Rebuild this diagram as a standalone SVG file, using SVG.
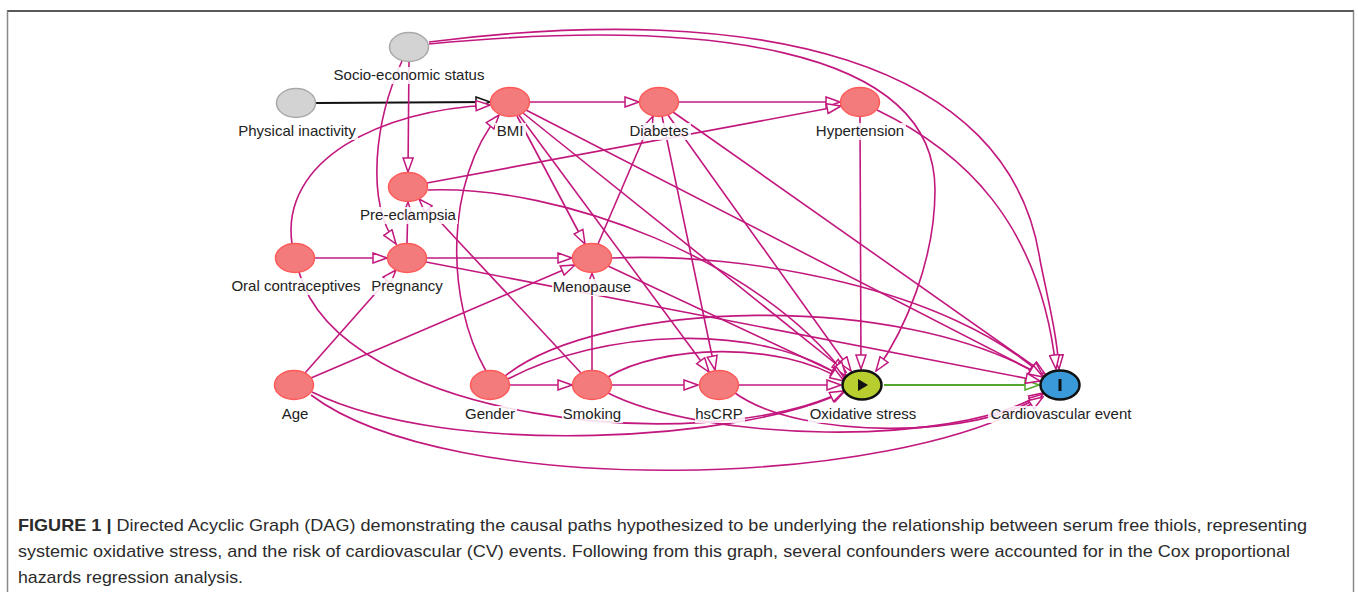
<svg xmlns="http://www.w3.org/2000/svg" width="1358" height="592" viewBox="0 0 1358 592">
<style>
.e{fill:none;stroke:#c2187e;stroke-width:1.6}
.n{fill:#f47b7b;stroke:#ff5a5a;stroke-width:1.5}
.g{fill:#d3d3d3;stroke:#a9a9a9;stroke-width:1.5}
.lb{fill:#fff;fill-opacity:0.85}
.t{font-family:"Liberation Sans",Arial,sans-serif;font-size:15px;fill:#222;text-anchor:middle}
.c{font-family:"Liberation Sans",Arial,sans-serif;font-size:17px;fill:#2b2b2b}
</style>
<defs>
<marker id="a" viewBox="0 0 16 12" refX="15" refY="6" markerWidth="16" markerHeight="12" markerUnits="userSpaceOnUse" orient="auto"><path d="M1,1 L15,6 L1,11 Z" fill="#fff" stroke="#c2187e" stroke-width="1.5"/></marker>
<marker id="k" viewBox="0 0 16 12" refX="15" refY="6" markerWidth="16" markerHeight="12" markerUnits="userSpaceOnUse" orient="auto"><path d="M1,1 L15,6 L1,11 Z" fill="#fff" stroke="#111" stroke-width="1.5"/></marker>
<marker id="gr" viewBox="0 0 16 12" refX="15" refY="6" markerWidth="16" markerHeight="12" markerUnits="userSpaceOnUse" orient="auto"><path d="M1,1 L15,6 L1,11 Z" fill="#fff" stroke="#52a82c" stroke-width="1.5"/></marker>
</defs>
<rect width="1358" height="592" fill="#fff"/>
<g id="frame">
<line x1="7" y1="11" x2="1354" y2="11" stroke="#222" stroke-width="1.5"/>
<line x1="7.5" y1="11" x2="7.5" y2="592" stroke="#888" stroke-width="1.5"/>
<line x1="1353.5" y1="11" x2="1353.5" y2="592" stroke="#888" stroke-width="1.5"/>
</g>
<g id="connectors">
<path d="M316,103 L490,102" fill="none" stroke="#111" stroke-width="2" marker-end="url(#k)"/>
<path class="e" marker-end="url(#a)" d="M530,102 L639,102"/>
<path class="e" marker-end="url(#a)" d="M679,102 L840,102"/>
<path class="e" marker-end="url(#a)" d="M409,61 L408,172"/>
<path class="e" marker-end="url(#a)" d="M314,258 L387,258"/>
<path class="e" marker-end="url(#a)" d="M427,258 L572,258"/>
<path class="e" marker-end="url(#a)" d="M510,385 L572,385"/>
<path class="e" marker-end="url(#a)" d="M612,385 L698,385"/>
<path class="e" marker-end="url(#a)" d="M738,385 L841,385"/>
<path d="M884,385 L1039,385" fill="none" stroke="#52a82c" stroke-width="1.8" marker-end="url(#gr)"/>
<path class="e" marker-end="url(#a)" d="M860,117 L861,369"/>
<path class="e" marker-end="url(#a)" d="M427,183 L841,106"/>
<path class="e" marker-end="url(#a)" d="M517,116 L585,244"/>
<path class="e" marker-end="url(#a)" d="M519,115 L709,372"/>
<path class="e" marker-end="url(#a)" d="M523,113 L846,372"/>
<path class="e" marker-end="url(#a)" d="M526,110 L1043,376"/>
<path class="e" marker-end="url(#a)" d="M662,116 L715,370"/>
<path class="e" marker-end="url(#a)" d="M668,115 L851,371"/>
<path class="e" marker-end="url(#a)" d="M673,112 L1045,374"/>
<path class="e" marker-end="url(#a)" d="M598,244 L653,116"/>
<path class="e" marker-end="url(#a)" d="M581,373 L419,199"/>
<path class="e" marker-end="url(#a)" d="M407,243 L408,202"/>
<path class="e" marker-end="url(#a)" d="M592,370 L592,273"/>
<path class="e" marker-end="url(#a)" d="M305,373 L396,270"/>
<path class="e" marker-end="url(#a)" d="M311,378 L575,265"/>
<path class="e" marker-end="url(#a)" d="M608,266 L845,377"/>
<path class="e" marker-end="url(#a)" d="M426,262 L1040,381"/>
<path class="e" marker-end="url(#a)" d="M429,44 C700,18 935,45 935,190 C935,260 905,330 876,371"/>
<path class="e" marker-end="url(#a)" d="M429,42 C760,0 1010,60 1040,260 C1048,300 1057,335 1059,369"/>
<path class="e" marker-end="url(#a)" d="M402,61 C375,120 365,200 396,244"/>
<path class="e" marker-end="url(#a)" d="M292,244 C280,160 380,110 490,105"/>
<path class="e" marker-end="url(#a)" d="M486,371 C445,300 445,180 499,115"/>
<path class="e" marker-end="url(#a)" d="M877,110 C960,150 1040,220 1056,369"/>
<path class="e" marker-end="url(#a)" d="M612,258 C750,252 950,290 1043,376"/>
<path class="e" marker-end="url(#a)" d="M428,190 C560,185 760,260 846,376"/>
<path class="e" marker-end="url(#a)" d="M505,376 C600,300 900,290 1043,377"/>
<path class="e" marker-end="url(#a)" d="M508,379 C600,330 760,320 845,379"/>
<path class="e" marker-end="url(#a)" d="M608,377 C660,345 780,340 844,381"/>
<path class="e" marker-end="url(#a)" d="M608,393 C700,440 950,450 1043,393"/>
<path class="e" marker-end="url(#a)" d="M735,393 C800,440 980,440 1043,394"/>
<path class="e" marker-end="url(#a)" d="M312,392 C450,460 750,440 845,391"/>
<path class="e" marker-end="url(#a)" d="M311,395 C450,500 900,490 1043,397"/>
<path class="e" marker-end="url(#a)" d="M299,272 C340,420 700,460 844,391"/>
</g>
<g id="n-ses"><ellipse class="g" cx="409" cy="47" rx="19.5" ry="14.5"/><rect class="lb" x="332" y="67" width="155" height="17"/><text class="t" x="409" y="80">Socio-economic status</text></g>
<g id="n-pi"><ellipse class="g" cx="296" cy="103" rx="19.5" ry="14.5"/><rect class="lb" x="237" y="123" width="121" height="17"/><text class="t" x="297" y="136">Physical inactivity</text></g>
<g id="n-bmi"><ellipse class="n" cx="510" cy="102" rx="19.5" ry="14.5"/><rect class="lb" x="495" y="123" width="31" height="17"/><text class="t" x="510" y="136">BMI</text></g>
<g id="n-dia"><ellipse class="n" cx="659" cy="102" rx="19.5" ry="14.5"/><rect class="lb" x="628" y="123" width="63" height="17"/><text class="t" x="659" y="136">Diabetes</text></g>
<g id="n-hyp"><ellipse class="n" cx="860" cy="102" rx="19.5" ry="14.5"/><rect class="lb" x="815" y="123" width="91" height="17"/><text class="t" x="860" y="136">Hypertension</text></g>
<g id="n-pre"><ellipse class="n" cx="408" cy="187" rx="19.5" ry="14.5"/><rect class="lb" x="359" y="207" width="99" height="17"/><text class="t" x="408" y="220">Pre-eclampsia</text></g>
<g id="n-oc"><ellipse class="n" cx="295" cy="258" rx="19.5" ry="14.5"/><rect class="lb" x="230" y="278" width="132" height="17"/><text class="t" x="296" y="291">Oral contraceptives</text></g>
<g id="n-preg"><ellipse class="n" cx="407" cy="258" rx="19.5" ry="14.5"/><rect class="lb" x="370" y="278" width="74" height="17"/><text class="t" x="407" y="291">Pregnancy</text></g>
<g id="n-men"><ellipse class="n" cx="592" cy="258" rx="19.5" ry="14.5"/><rect class="lb" x="552" y="279" width="81" height="17"/><text class="t" x="592" y="292">Menopause</text></g>
<g id="n-age"><ellipse class="n" cx="294" cy="385" rx="19.5" ry="14.5"/><rect class="lb" x="280" y="406" width="30" height="17"/><text class="t" x="295" y="419">Age</text></g>
<g id="n-gen"><ellipse class="n" cx="490" cy="385" rx="19.5" ry="14.5"/><rect class="lb" x="464" y="406" width="53" height="17"/><text class="t" x="490" y="419">Gender</text></g>
<g id="n-smo"><ellipse class="n" cx="592" cy="385" rx="19.5" ry="14.5"/><rect class="lb" x="562" y="406" width="61" height="17"/><text class="t" x="592" y="419">Smoking</text></g>
<g id="n-crp"><ellipse class="n" cx="719" cy="385" rx="19.5" ry="14.5"/><rect class="lb" x="695" y="406" width="50" height="17"/><text class="t" x="719" y="419">hsCRP</text></g>
<g id="n-ox"><ellipse cx="862" cy="385" rx="19.5" ry="14.5" fill="#b8cd2e" stroke="#111" stroke-width="2.5"/><path d="M858,379 L868,385 L858,391 Z" fill="#111"/><rect class="lb" x="808" y="406" width="110" height="17"/><text class="t" x="863" y="419">Oxidative stress</text></g>
<g id="n-cv"><ellipse cx="1060" cy="385" rx="19.5" ry="14.5" fill="#3a9ad9" stroke="#111" stroke-width="2.5"/><rect x="1058.5" y="379" width="3" height="12" fill="#111"/><rect class="lb" x="988" y="406" width="146" height="17"/><text class="t" x="1061" y="419">Cardiovascular event</text></g>
<g id="caption">
<text class="c" x="18" y="531" textLength="1289" lengthAdjust="spacingAndGlyphs"><tspan font-weight="bold">FIGURE 1 |</tspan> Directed Acyclic Graph (DAG) demonstrating the causal paths hypothesized to be underlying the relationship between serum free thiols, representing</text>
<text class="c" x="18" y="557" textLength="1272" lengthAdjust="spacingAndGlyphs">systemic oxidative stress, and the risk of cardiovascular (CV) events. Following from this graph, several confounders were accounted for in the Cox proportional</text>
<text class="c" x="18" y="583" textLength="225" lengthAdjust="spacingAndGlyphs">hazards regression analysis.</text>
</g>
</svg>
